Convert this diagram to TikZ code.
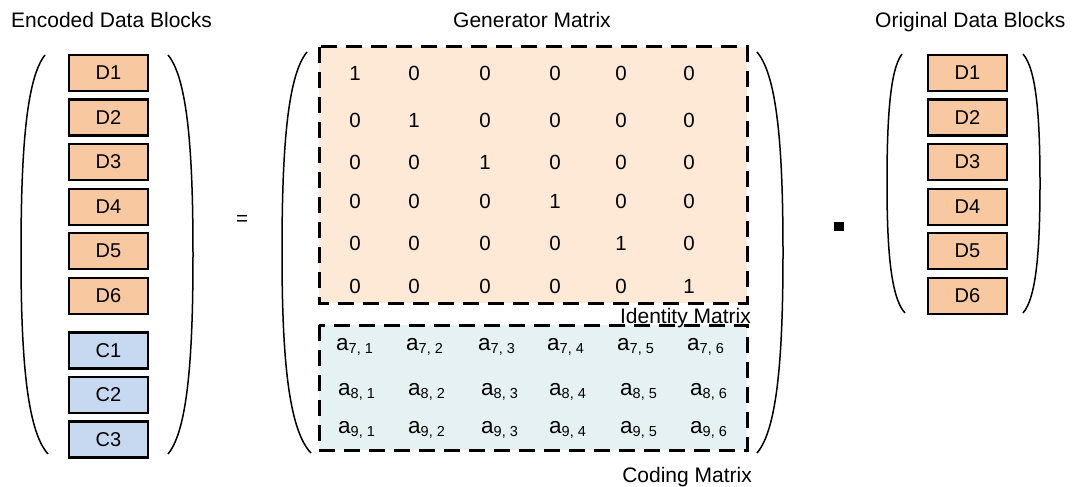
\documentclass[tikz,border=0pt]{standalone}
\usepackage{fontspec}
\setmainfont{Liberation Sans}
\definecolor{blockor}{RGB}{248,201,160}
\definecolor{blockbl}{RGB}{198,217,240}
\definecolor{idfill}{RGB}{253,233,213}
\definecolor{codefill}{RGB}{230,241,243}
\newcommand\drawparen[5]{%
  \draw[paren] (#1,#2) .. controls ({#3+0.2*(#1-#3)},{#2+0.06*(#5-#2)}) and (#3,{#2+0.25*(#5-#2)}) .. (#3,{(#2+#5)/2})
    .. controls (#3,{#5-0.25*(#5-#2)}) and ({#3+0.2*(#4-#3)},{#5-0.06*(#5-#2)}) .. (#4,#5);}
\newcommand\aent[2]{a\raisebox{-3pt}{\fontsize{14.5}{14}\selectfont #1, #2}}
\tikzset{
  blk/.style={draw=black, line width=2.5pt, minimum width=79pt, minimum height=36pt, inner sep=0pt,
     font=\fontsize{20}{24}\selectfont},
  dblk/.style={blk, fill=blockor},
  cblk/.style={blk, fill=blockbl},
  dbox/.style={draw=black, line width=3pt, dash pattern=on 16pt off 9pt},
  paren/.style={draw=black, line width=1.5pt},
  lbl/.style={font=\fontsize{21}{25}\selectfont, inner sep=0pt},
  num/.style={font=\fontsize{20.5}{24}\selectfont, inner sep=0pt},
  ent/.style={font=\fontsize{22.5}{24}\selectfont, inner sep=0pt, anchor=base west},
}
\begin{document}
\begin{tikzpicture}[x=1pt,y=-1pt]
\useasboundingbox (0,0) rectangle (1074,487);
% titles
\node[lbl, anchor=base west] (t1) at (11,28) {Encoded Data Blocks};
\node[lbl, anchor=base west] (t2) at (453,28) {Generator Matrix};
\node[lbl, anchor=base west] (t3) at (875,28) {Original Data Blocks};
% left blocks
\foreach \n/\y in {1/73,2/117.5,3/162,4/207,5/251,6/296}
  \node[dblk] (ld\n) at (108.5,\y) {D\n};
\foreach \n/\y in {1/350.5,2/395,3/439.5}
  \node[cblk] (lc\n) at (108.5,\y) {C\n};
% right blocks
\foreach \n/\y in {1/73,2/117.5,3/162,4/207,5/251,6/296}
  \node[dblk] (rd\n) at (967.5,\y) {D\n};
% parentheses
\drawparen{45}{55}{21}{48}{454}
\drawparen{168}{55}{193}{168}{454}
\drawparen{307}{52}{282}{311}{453}
\drawparen{757}{52}{783}{757}{453}
\drawparen{902}{54}{887}{905}{313}
\drawparen{1023}{54}{1040}{1023}{313}
% boxes
\path[fill=idfill] (319,47) rectangle (747,303);
\path[fill=codefill] (319,325) rectangle (747,450);
\draw[dbox] (319,47) rectangle (747,303);
\draw[dbox] (319,325) rectangle (747,450);
% identity entries
\foreach \r/\y in {1/73.5,2/120,3/162,4/201,5/243,6/286}{
  \foreach \c/\x in {1/355,2/414,3/485,4/555,5/621,6/689}{
    \pgfmathtruncatemacro\v{\r==\c ? 1 : 0}
    \node[num] (i\r\c) at (\x,\y) {\v};
  }
}
% coding entries
\foreach \c/\x in {1/336,2/406,3/478,4/547,5/617,6/687}
  \node[ent] (a7\c) at (\x,350) {\aent{7}{\c}};
\foreach \c/\x in {1/338,2/408,3/481,4/549,5/620,6/690}
  \node[ent] (a8\c) at (\x,395) {\aent{8}{\c}};
\foreach \c/\x in {1/338,2/408,3/481,4/549,5/620,6/690}
  \node[ent] (a9\c) at (\x,433) {\aent{9}{\c}};
% matrix labels
\node[lbl, anchor=base east] (idl) at (751,323) {Identity Matrix};
\node[lbl, anchor=base east] (cdl) at (752,482) {Coding Matrix};
% operators
\node[num, anchor=base] (eq) at (242,225) {=};
\fill[black] (834,222) rectangle (844,231);
\end{tikzpicture}
\end{document}
